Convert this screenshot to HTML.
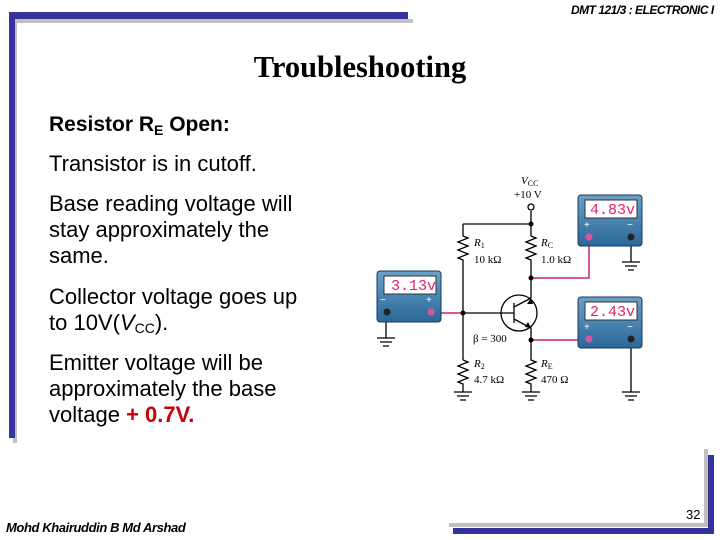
<!DOCTYPE html>
<html><head><meta charset="utf-8"><style>
body{margin:0;width:720px;height:540px;background:#fff;position:relative;overflow:hidden;font-family:"Liberation Sans",sans-serif}
.b{position:absolute}
.t{position:absolute;left:49px;font-size:22px;color:#000;line-height:26px}
</style></head><body>
<div class="b" style="left:13px;top:19px;width:400px;height:4px;background:#c0c0c0"></div>
<div class="b" style="left:13px;top:19px;width:4px;height:424px;background:#c0c0c0"></div>
<div class="b" style="left:9px;top:12px;width:399px;height:7px;background:#333399"></div>
<div class="b" style="left:9px;top:12px;width:6px;height:426px;background:#333399"></div>
<div class="b" style="left:449px;top:523px;width:259px;height:4px;background:#c0c0c0"></div>
<div class="b" style="left:704px;top:449px;width:4px;height:78px;background:#c0c0c0"></div>
<div class="b" style="left:453px;top:528px;width:261px;height:6px;background:#333399"></div>
<div class="b" style="left:708px;top:455px;width:6px;height:79px;background:#333399"></div>
<div class="b" style="left:571px;top:3px;font-size:12px;font-style:italic;font-weight:bold;letter-spacing:-0.5px">DMT 121/3 : ELECTRONIC I</div>
<div class="b" style="left:0;width:720px;top:50px;text-align:center;font-family:'Liberation Serif',serif;font-weight:bold;font-size:30.5px">Troubleshooting</div>
<div class="t" style="top:112px;font-weight:bold;font-size:21px">Resistor R<sub style="font-size:14px;vertical-align:-4px">E</sub> Open:</div>
<div class="t" style="top:151px">Transistor is in cutoff.</div>
<div class="t" style="top:191px">Base reading voltage will<br>stay approximately the<br>same.</div>
<div class="t" style="top:284px">Collector voltage goes up<br>to 10V(<i>V</i><sub style="font-size:14px;vertical-align:-3px">CC</sub>).</div>
<div class="t" style="top:350px">Emitter voltage will be<br>approximately the base<br>voltage <b style="color:#cc0000">+ 0.7V.</b></div>
<div class="b" style="left:6px;top:520px;font-size:13px;font-style:italic;font-weight:bold;letter-spacing:-0.4px">Mohd Khairuddin B Md Arshad</div>
<div class="b" style="left:686px;top:507px;font-size:13px">32</div>
<svg class="b" style="left:0;top:0" width="720" height="540">
<defs><linearGradient id="g" x1="0" y1="0" x2="0" y2="1"><stop offset="0" stop-color="#6aa0c8"/><stop offset="1" stop-color="#2a6898"/></linearGradient></defs>
<g stroke="#000" stroke-width="1.3" fill="none">
<path d="M531 211V224M463 224H531M463 224V236M531 224V236"/>
<path d="M463 236l5 2-10 4 10 4-10 4 10 4-10 4 5 2V300M463 300V360"/>
<path d="M531 236l5 2-10 4 10 4-10 4 10 4-10 4 5 2V298"/>
<path d="M463 360l5 2-10 4 10 4-10 4 10 4-10 4 5 2V392M531 335V360l5 2-10 4 10 4-10 4 10 4-10 4 5 2V392"/>
<path d="M463 313H514M514 303V323M514 307L531 298M514 319L531 328V335"/>
<circle cx="519" cy="313" r="18"/>
<circle cx="531" cy="207" r="3" fill="#fff"/>
<path d="M386 318V338M377 338h18M380 342h12M383 346h6"/>
<path d="M631 240V262M622 262h18M625 266h12M628 270h6"/>
<path d="M631 342V392M622 392h18M625 396h12M628 400h6"/>
<path d="M454 392h18M457 396h12M460 400h6M522 392h18M525 396h12M528 400h6"/>
</g>
<path d="M531 298L527 304L533 304Z M531 328L525 327L528 322Z" fill="#000"/>
<g stroke="#cc2277" stroke-width="1.5" fill="none"><path d="M431 313H463M531 278H589V238M531 340H589"/></g>
<g fill="#000"><circle cx="531" cy="224" r="2.5"/><circle cx="531" cy="278" r="2.5"/><circle cx="463" cy="313" r="2.5"/><circle cx="531" cy="340" r="2.5"/></g>
<g font-family="Liberation Serif,serif" font-size="11">
<text x="521" y="184" font-style="italic">V<tspan font-size="8" font-style="normal" dy="2">CC</tspan></text>
<text x="514" y="198">+10 V</text>
<text x="474" y="246" font-style="italic">R<tspan font-size="8" font-style="normal" dy="2">1</tspan></text>
<text x="474" y="263">10 kΩ</text>
<text x="541" y="246" font-style="italic">R<tspan font-size="8" font-style="normal" dy="2">C</tspan></text>
<text x="541" y="263">1.0 kΩ</text>
<text x="474" y="367" font-style="italic">R<tspan font-size="8" font-style="normal" dy="2">2</tspan></text>
<text x="474" y="383">4.7 kΩ</text>
<text x="541" y="367" font-style="italic">R<tspan font-size="8" font-style="normal" dy="2">E</tspan></text>
<text x="541" y="383">470 Ω</text>
<text x="473" y="342">β = 300</text>
</g>
<g font-family="Liberation Mono,monospace" font-size="15" fill="#e0206a">
<rect x="377" y="271" width="64" height="51" rx="3" fill="url(#g)" stroke="#1a3a5a"/>
<rect x="384" y="276" width="52" height="18" fill="#fff" stroke="#333"/>
<text x="391" y="290">3.13v</text>
<rect x="578" y="195" width="64" height="51" rx="3" fill="url(#g)" stroke="#1a3a5a"/>
<rect x="585" y="200" width="52" height="18" fill="#fff" stroke="#333"/>
<text x="590" y="214">4.83v</text>
<rect x="578" y="297" width="64" height="51" rx="3" fill="url(#g)" stroke="#1a3a5a"/>
<rect x="585" y="302" width="52" height="18" fill="#fff" stroke="#333"/>
<text x="590" y="316">2.43v</text>
</g>
<g fill="#fff" font-size="10"><text x="380" y="303">−</text><text x="426" y="303">+</text><text x="584" y="228">+</text><text x="627" y="228">−</text><text x="584" y="330">+</text><text x="627" y="330">−</text></g>
<g><circle cx="387" cy="312" r="3.5" fill="#222"/><circle cx="431" cy="312" r="3.5" fill="#e050a0"/>
<circle cx="589" cy="237" r="3.5" fill="#e050a0"/><circle cx="631" cy="237" r="3.5" fill="#222"/>
<circle cx="589" cy="339" r="3.5" fill="#e050a0"/><circle cx="631" cy="339" r="3.5" fill="#222"/></g>
</svg>
</body></html>
